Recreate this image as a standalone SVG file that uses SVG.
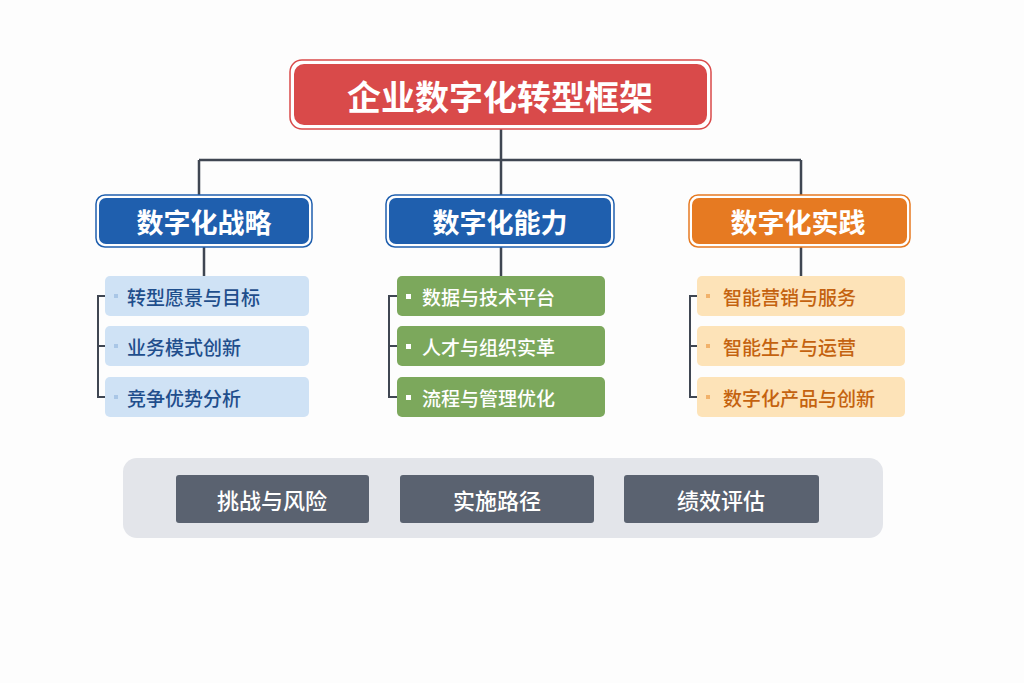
<svg xmlns="http://www.w3.org/2000/svg" width="1024" height="683" viewBox="0 0 1024 683">
<style>
text{font-family:"Noto Sans CJK SC","Noto Sans",sans-serif;font-weight:700;text-anchor:middle;dominant-baseline:central}
.c{fill:none;stroke:#3f4652;stroke-width:2.5}
.b{fill:none;stroke:#3f4652;stroke-width:2}
.h{font-size:27px;fill:#fff}
.s{font-size:19px;font-weight:500;text-anchor:start}
.bl{fill:#cfe2f5}.gr{fill:#7ca85c}.or{fill:#fde3b8}
.btn{fill:#5a6270}
</style>
<rect width="1024" height="683" fill="#fdfdfd"/>
<g id="connectors">
<path class="c" d="M501 129V160M199 160H801M199 160V196M501 160V196M801 160V196M204 247V276M501 247V276M801 247V276"/>
<path class="b" d="M105 296H98V397H105M98 346H105M397 296H389V397H397M389 346H397M697 296H690V397H697M690 346H697"/>
</g>
<g id="title">
<rect x="290" y="60" width="421" height="69" rx="12" fill="#fff" stroke="#d94a4a" stroke-width="1.5"/>
<rect x="294" y="64" width="413" height="61" rx="10" fill="#d94a4a"/>
<text x="500" y="95" style="font-size:34px;fill:#fff">企业数字化转型框架</text>
</g>
<g id="strategy">
<rect x="96" y="195" width="216" height="52" rx="9" fill="#fff" stroke="#1f5fae" stroke-width="1.5"/>
<rect x="99" y="198" width="210" height="46" rx="7" fill="#1f5fae"/>
<text class="h" x="204" y="221">数字化战略</text>
</g>
<g id="capability">
<rect x="386" y="195" width="228" height="52" rx="9" fill="#fff" stroke="#1f5fae" stroke-width="1.5"/>
<rect x="389" y="198" width="222" height="46" rx="7" fill="#1f5fae"/>
<text class="h" x="500" y="221">数字化能力</text>
</g>
<g id="practice">
<rect x="689" y="195" width="221" height="52" rx="9" fill="#fff" stroke="#e67a22" stroke-width="1.5"/>
<rect x="692" y="198" width="215" height="46" rx="7" fill="#e67a22"/>
<text class="h" x="798" y="221">数字化实践</text>
</g>
<g id="s1"><rect class="bl" x="105" y="276" width="204" height="40" rx="5"/><rect x="114" y="294" width="4" height="4" fill="#a9c6e6"/><text class="s" x="127" y="296" fill="#1f4e8c">转型愿景与目标</text></g>
<g id="s2"><rect class="bl" x="105" y="326" width="204" height="40" rx="5"/><rect x="114" y="344" width="4" height="4" fill="#a9c6e6"/><text class="s" x="127" y="346" fill="#1f4e8c">业务模式创新</text></g>
<g id="s3"><rect class="bl" x="105" y="377" width="204" height="40" rx="5"/><rect x="114" y="395" width="4" height="4" fill="#a9c6e6"/><text class="s" x="127" y="397" fill="#1f4e8c">竞争优势分析</text></g>
<g id="c1"><rect class="gr" x="397" y="276" width="208" height="40" rx="5"/><rect x="406" y="294" width="5" height="5" fill="#fff"/><text class="s" x="422" y="296" fill="#fff">数据与技术平台</text></g>
<g id="c2"><rect class="gr" x="397" y="326" width="208" height="40" rx="5"/><rect x="406" y="344" width="5" height="5" fill="#fff"/><text class="s" x="422" y="346" fill="#fff">人才与组织实革</text></g>
<g id="c3"><rect class="gr" x="397" y="377" width="208" height="40" rx="5"/><rect x="406" y="395" width="5" height="5" fill="#fff"/><text class="s" x="422" y="397" fill="#fff">流程与管理优化</text></g>
<g id="p1"><rect class="or" x="697" y="276" width="208" height="40" rx="5"/><rect x="706" y="294" width="4" height="4" fill="#f2b26a"/><text class="s" x="723" y="296" fill="#c4620f">智能营销与服务</text></g>
<g id="p2"><rect class="or" x="697" y="326" width="208" height="40" rx="5"/><rect x="706" y="344" width="4" height="4" fill="#f2b26a"/><text class="s" x="723" y="346" fill="#c4620f">智能生产与运营</text></g>
<g id="p3"><rect class="or" x="697" y="377" width="208" height="40" rx="5"/><rect x="706" y="395" width="4" height="4" fill="#f2b26a"/><text class="s" x="723" y="397" fill="#c4620f">数字化产品与创新</text></g>
<g id="panel"><rect x="123" y="458" width="760" height="80" rx="14" fill="#e3e5ea"/></g>
<g id="b1"><rect class="btn" x="176" y="475" width="193" height="48" rx="3"/><text x="272" y="499" style="font-size:22px;font-weight:500;fill:#fff">挑战与风险</text></g>
<g id="b2"><rect class="btn" x="400" y="475" width="194" height="48" rx="3"/><text x="497" y="499" style="font-size:22px;font-weight:500;fill:#fff">实施路径</text></g>
<g id="b3"><rect class="btn" x="624" y="475" width="195" height="48" rx="3"/><text x="721" y="499" style="font-size:22px;font-weight:500;fill:#fff">绩效评估</text></g>
</svg>
